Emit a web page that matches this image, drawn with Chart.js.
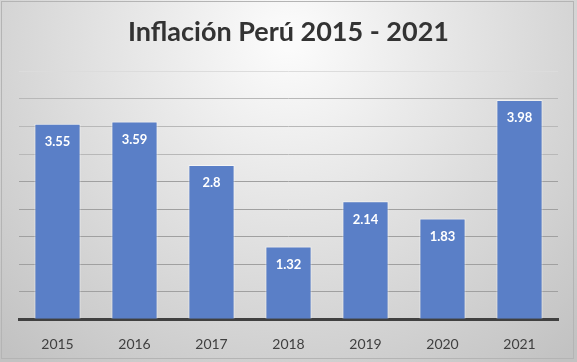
<!DOCTYPE html>
<html>
<head>
<meta charset="utf-8">
<script src="https://cdn.jsdelivr.net/npm/chart.js@4"></script>
<style>
  html, body { margin: 0; padding: 0; background: #ffffff; }
  #wrap { width: 577px; height: 362px; position: relative; }
</style>
</head>
<body>
<div id="wrap"><canvas id="chart" width="577" height="362"></canvas></div>
<script>
const years = ['2015', '2016', '2017', '2018', '2019', '2020', '2021'];
const inflation = [3.55, 3.59, 2.8, 1.32, 2.14, 1.83, 3.98];
const chartTitle = 'Inflación Perú 2015 - 2021';

// gray gradient background + thin frame
const backdrop = {
  id: 'backdrop',
  beforeDraw(chart) {
    const c = chart.ctx;
    const w = chart.width, h = chart.height;
    c.save();
    const g = c.createRadialGradient(w / 2, 40, 10, w / 2, 40, 420);
    g.addColorStop(0, '#fbfbfb');
    g.addColorStop(1, '#c2c2c2');
    c.fillStyle = g;
    c.fillRect(0, 0, w, h);
    c.strokeStyle = '#b4b4b4';
    c.lineWidth = 1;
    c.strokeRect(1.5, 1.5, w - 5, h - 5);
    c.restore();
  }
};

// value labels inside the top of each bar
const barLabels = {
  id: 'barLabels',
  afterDatasetsDraw(chart) {
    const c = chart.ctx;
    const meta = chart.getDatasetMeta(0);
    c.save();
    c.fillStyle = '#ffffff';
    c.font = 'bold 13px Lato';
    c.textAlign = 'center';
    c.textBaseline = 'middle';
    meta.data.forEach((bar, i) => {
      c.fillText(String(inflation[i]), bar.x, bar.y + 18);
    });
    c.restore();
  }
};

new Chart(document.getElementById('chart'), {
  type: 'bar',
  data: {
    labels: years,
    datasets: [{
      data: inflation,
      backgroundColor: '#5a7fc7',
      borderColor: 'rgba(255,255,255,0.55)',
      borderWidth: 1,
      categoryPercentage: 1,
      barPercentage: 0.6
    }]
  },
  options: {
    responsive: false,
    animation: false,
    layout: { padding: { left: 19, right: 19, top: 0, bottom: 0 } },
    plugins: {
      legend: { display: false },
      tooltip: { enabled: false },
      title: {
        display: true,
        text: chartTitle,
        color: '#333333',
        font: { family: 'Lato', size: 27, weight: 'bold' },
        padding: { top: 16, bottom: 23 }
      }
    },
    scales: {
      x: {
        grid: { display: false },
        border: { color: '#404040', width: 3 },
        ticks: { color: '#404040', font: { family: 'Lato', size: 14 }, padding: 9 }
      },
      y: {
        min: 0,
        max: 4.5,
        ticks: { display: false, stepSize: 0.5 },
        border: { display: false },
        grid: {
          drawTicks: false,
          color: ctx => ctx.index === 9 ? '#dcdcdc' : (ctx.index >= 6 ? '#b8b8b8' : '#a0a0a0')
        }
      }
    }
  },
  plugins: [backdrop, barLabels]
});
</script>
</body>
</html>
